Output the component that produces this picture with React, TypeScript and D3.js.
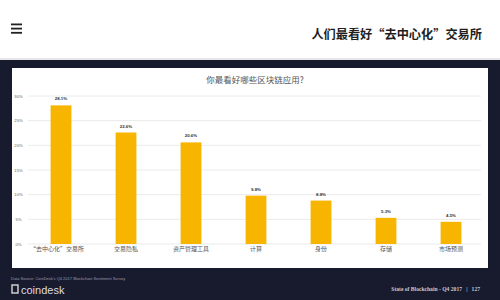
import React from "react";
import * as d3 from "d3";

const categories = ["“去中心化”交易所", "交易隐私", "资产管理工具", "计算", "身份", "存储", "市场预测"];
const values = [28.1, 22.6, 20.6, 9.8, 8.8, 5.3, 4.5];
const yTicks = [0, 5, 10, 15, 20, 25, 30];
const headerTitle = "人们最看好“去中心化”交易所";
const chartTitle = "你最看好哪些区块链应用?";
const sourceText = "Data Source: CoinDesk's Q4 2017 Blockchain Sentiment Survey";
const footerRight = "State of Blockchain - Q4 2017   |   127";

const CJK = "'Noto Sans CJK SC', 'Noto Sans', sans-serif";

export default function App() {
  const x = d3
    .scaleBand<string>()
    .domain(categories)
    .range([28.5, 483.5])
    .paddingInner(0.68)
    .paddingOuter(0.34);
  const y = d3.scaleLinear().domain([0, 30]).range([244, 96]);
  const fmt = (v: number) => `${v.toFixed(1)}%`;

  return (
    <svg
      width={500}
      height={300}
      style={{ position: "absolute", left: 0, top: 0, display: "block" }}
      fontFamily={CJK}
    >
      {/* header */}
      <rect x={0} y={0} width={500} height={60} fill="#ffffff" />
      <rect x={0} y={58} width={500} height={2} fill="#e6e6ea" />
      {[0, 1, 2].map((i) => (
        <rect key={i} x={11} y={23.5 + i * 4.2} width={11} height={1.8} fill="#222" />
      ))}
      <text x={482} y={39} textAnchor="end" fontSize={12.2} fontWeight={700} fill="#1e1e1e">
        {headerTitle}
      </text>

      {/* dark slide background */}
      <rect x={0} y={60} width={500} height={240} fill="#181a2e" />
      {/* white panel */}
      <rect x={12} y={68} width={476} height={200} fill="#ffffff" />

      <text x={255} y={83} textAnchor="middle" fontSize={8.5} fill="#555">
        {chartTitle}
      </text>

      {/* grid + y ticks */}
      {yTicks.map((t) => (
        <g key={t}>
          <line x1={28} x2={481} y1={y(t)} y2={y(t)} stroke="#e4e4e4" strokeWidth={0.8} />
          <text x={18.5} y={y(t) + 1.5} textAnchor="middle" fontSize={4.2} fill="#666" fontFamily="'Liberation Sans', sans-serif">
            {`${t}%`}
          </text>
        </g>
      ))}

      {/* bars */}
      {categories.map((c, i) => (
        <g key={c}>
          <rect
            x={x(c)!}
            y={y(values[i])}
            width={x.bandwidth()}
            height={y(0) - y(values[i])}
            fill="#f7b500"
          />
          <text
            x={x(c)! + x.bandwidth() / 2}
            y={y(values[i]) - 5}
            textAnchor="middle"
            fontSize={4.4}
            fontWeight={700}
            fill="#333"
            fontFamily="'Liberation Sans', sans-serif"
          >
            {fmt(values[i])}
          </text>
          <text
            x={x(c)! + x.bandwidth() / 2 - (i === 0 ? 4 : 0)}
            y={251}
            textAnchor="middle"
            fontSize={6}
            fill="#555"
          >
            {c}
          </text>
        </g>
      ))}

      {/* footer */}
      <text x={11} y={280} fontSize={4} fill="#9a9cab" fontFamily="'Liberation Sans', sans-serif">
        {sourceText}
      </text>
      <rect x={12} y={285} width={6} height={8} fill="none" stroke="#d8d8d8" strokeWidth={1.4} />
      <text x={21} y={293.5} fontSize={11} fill="#dcdce0" fontFamily="'Liberation Sans', sans-serif">
        coindesk
      </text>
      <text
        x={480}
        y={291}
        textAnchor="end"
        fontSize={5.6}
        fontWeight={700}
        fill="#c8c9d2"
        fontFamily="'Liberation Serif', serif"
        style={{ whiteSpace: "pre" }}
      >
        {footerRight}
      </text>
    </svg>
  );
}
